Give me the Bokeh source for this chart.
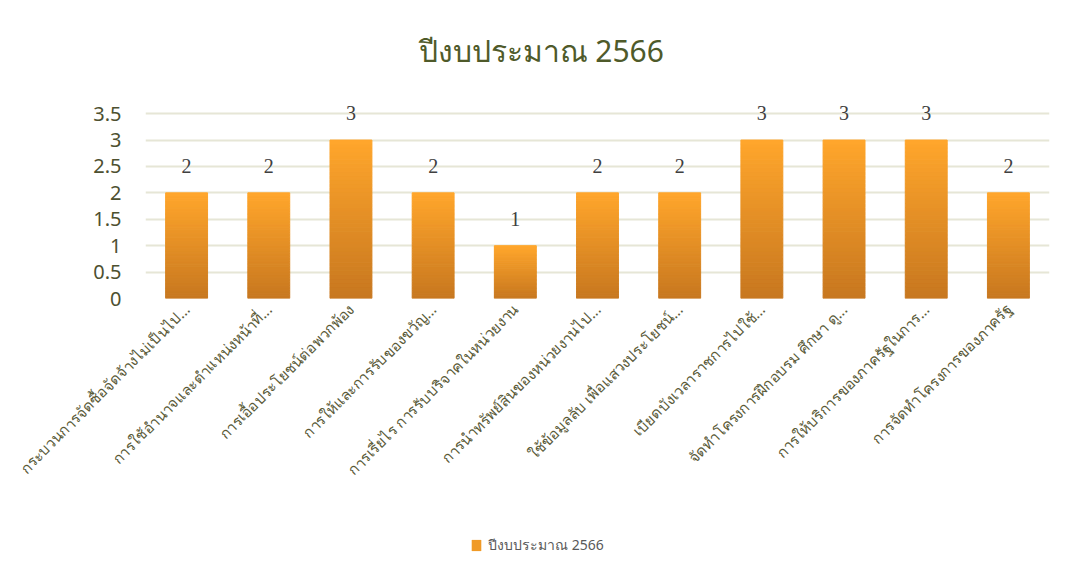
import math
from bokeh.plotting import figure
from bokeh.layouts import column
from bokeh.models import (ColumnDataSource, FactorRange, FixedTicker, LabelSet,
                          Legend, LegendItem, Range1d)
from bokeh.embed import file_html
from bokeh.resources import INLINE

categories = [
    "กระบวนการจัดซื้อจัดจ้างไม่เป็นไป...",
    "การใช้อำนาจและตำแหน่งหน้าที่...",
    "การเอื้อประโยชน์ต่อพวกพ้อง",
    "การให้และการรับของขวัญ...",
    "การเรี่ยไร การรับบริจาคในหน่วยงาน",
    "การนำทรัพย์สินของหน่วยงานไป...",
    "ใช้ข้อมูลลับ เพื่อแสวงประโยชน์...",
    "เบียดบังเวลาราชการไปใช้...",
    "จัดทำโครงการฝึกอบรม ศึกษา ดู...",
    "การให้บริการของภาครัฐในการ...",
    "การจัดทำโครงการของภาครัฐ",
]
values = [2, 2, 3, 2, 1, 2, 2, 3, 3, 3, 2]
series_name = "ปีงบประมาณ 2566"
y_ticks = [0, 0.5, 1, 1.5, 2, 2.5, 3, 3.5]
y_tick_labels = ["0", "0.5", "1", "1.5", "2", "2.5", "3", "3.5"]

FONT = "Noto Sans"
top_rgb = (255, 166, 44)
bot_rgb = (200, 120, 32)

p = figure(width=1073, height=530, output_backend="svg", toolbar_location=None,
           x_range=FactorRange(*categories, range_padding=0),
           y_range=Range1d(0, 3.9))
p.min_border_left = 145
p.min_border_right = 24
p.min_border_top = 92
p.min_border_bottom = 232
p.outline_line_color = None
p.background_fill_color = "white"
p.border_fill_color = "white"

# gradient bars from slices
N = 40
xs, bots, tops, cols = [], [], [], []
for c, v in zip(categories, values):
    for i in range(N):
        t = i / (N - 1)
        r = int(bot_rgb[0] + (top_rgb[0] - bot_rgb[0]) * t)
        g = int(bot_rgb[1] + (top_rgb[1] - bot_rgb[1]) * t)
        b = int(bot_rgb[2] + (top_rgb[2] - bot_rgb[2]) * t)
        xs.append(c)
        bots.append(v * i / N)
        tops.append(v * (i + 1) / N)
        cols.append("#%02x%02x%02x" % (r, g, b))
slices = ColumnDataSource(dict(x=xs, bottom=bots, top=tops, color=cols))
p.vbar(x="x", bottom="bottom", top="top", width=0.51, fill_color="color",
       line_color="color", line_width=1, source=slices)

src = ColumnDataSource(dict(x=categories, top=values, lab=[str(v) for v in values]))

labels = LabelSet(x="x", y="top", text="lab", source=src, text_align="center",
                  text_baseline="middle", y_offset=27, text_font_size="20px",
                  text_color="#404040", text_font=FONT)
p.add_layout(labels)

# axes
p.yaxis.ticker = FixedTicker(ticks=y_ticks)
p.yaxis.major_label_overrides = {t: l for t, l in zip(y_ticks, y_tick_labels)}
p.yaxis.axis_line_color = None
p.yaxis.major_tick_line_color = None
p.yaxis.minor_tick_line_color = None
p.yaxis.major_label_text_font_size = "20px"
p.yaxis.major_label_text_color = "#4d5030"
p.yaxis.major_label_text_font = FONT
p.yaxis.major_label_standoff = 18

p.xaxis.axis_line_color = None
p.xaxis.major_tick_line_color = None
p.xaxis.major_label_orientation = math.pi / 4
p.xaxis.major_label_text_font_size = "15px"
p.xaxis.major_label_text_color = "#5a5a38"
p.xaxis.major_label_text_font = FONT
p.xaxis.major_label_standoff = 2

p.xgrid.grid_line_color = None
p.ygrid.ticker = FixedTicker(ticks=y_ticks)
p.ygrid.grid_line_color = "#e6e6d6"
p.ygrid.grid_line_width = 2

# title
p.title.text = series_name
p.title.align = "left"
p.title.text_font_size = "30px"
p.title.text_font = FONT
p.title.text_font_style = "normal"
p.title.text_color = "#4f5a2a"
p.title.offset = 273
p.title.standoff = 44

# legend strip
p2 = figure(width=1073, height=50, output_backend="svg", toolbar_location=None,
            min_border=0, x_range=Range1d(0, 1), y_range=Range1d(0, 1))
p2.axis.visible = False
p2.grid.visible = False
p2.outline_line_color = None
p2.border_fill_color = "white"
swatch = p2.vbar(x=[0], top=[0], width=0, fill_color="#f09a26", line_color=None)
legend = Legend(items=[LegendItem(label=series_name, renderers=[swatch])],
                location=(325, 24), orientation="horizontal",
                label_text_font_size="14px", label_text_color="#595959",
                label_text_font=FONT, border_line_color=None,
                background_fill_alpha=0, glyph_width=12, glyph_height=14,
                label_standoff=6)
p2.add_layout(legend, "center")

layout = column(p, p2, spacing=0)
open("out.html", "w").write(file_html(layout, INLINE))
